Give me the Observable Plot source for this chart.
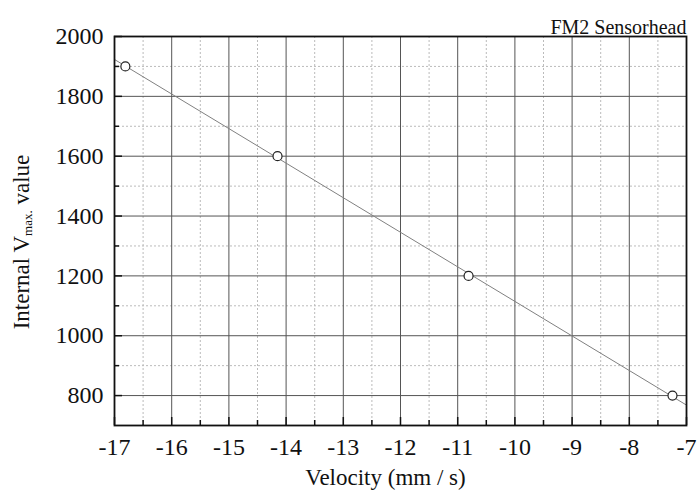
<!DOCTYPE html>
<html>
<head>
<meta charset="utf-8">
<script src="https://cdn.jsdelivr.net/npm/d3@7"></script>
<script src="https://cdn.jsdelivr.net/npm/@observablehq/plot@0.6"></script>
<style>
  html, body { margin: 0; padding: 0; background: #fff; }
</style>
</head>
<body>
<div id="chart"></div>
<script>
// Data
const velocity = [-16.81, -14.15, -10.81, -7.245];
const vmax = [1900, 1600, 1200, 800];
const xTicks = [-17, -16, -15, -14, -13, -12, -11, -10, -9, -8, -7];
const xMinorTicks = [-16.5, -15.5, -14.5, -13.5, -12.5, -11.5, -10.5, -9.5, -8.5, -7.5];
const yTicks = [800, 1000, 1200, 1400, 1600, 1800, 2000];
const yMinorTicks = [900, 1100, 1300, 1500, 1700, 1900];
const xDomain = [-17, -7];
const yDomain = [700, 2000];
const titleText = "FM2 Sensorhead";
const xLabel = "Velocity (mm / s)";

const points = velocity.map((v, i) => ({x: v, y: vmax[i]}));

// least-squares linear fit, evaluated across the x domain
const mx = d3.mean(velocity), my = d3.mean(vmax);
const slope = d3.sum(points, p => (p.x - mx) * (p.y - my)) / d3.sum(points, p => (p.x - mx) ** 2);
const intercept = my - slope * mx;
const fitLine = xDomain.map(x => ({x, y: intercept + slope * x}));

const font = "Liberation Serif";

const chart = Plot.plot({
  width: 699,
  height: 499,
  marginLeft: 114,
  marginRight: 13,
  marginTop: 36,
  marginBottom: 74,
  style: {fontSize: "24px", color: "#111", background: "#fff"},
  x: {domain: xDomain},
  y: {domain: yDomain},
  marks: [
    Plot.gridX(xMinorTicks, {stroke: "#bbb", strokeOpacity: 1, strokeDasharray: "2,2"}),
    Plot.gridY(yMinorTicks, {stroke: "#bbb", strokeOpacity: 1, strokeDasharray: "2,2"}),
    Plot.gridX(xTicks, {stroke: "#555", strokeOpacity: 1}),
    Plot.gridY(yTicks, {stroke: "#555", strokeOpacity: 1}),
    Plot.axisX(xTicks, {tickSize: -8, tickFormat: () => "", label: null, strokeWidth: 1.5}),
    Plot.axisX(xMinorTicks, {tickSize: -5, tickFormat: () => "", label: null, strokeWidth: 1.5}),
    Plot.axisX(xTicks, {tickSize: 0, tickPadding: 12, label: null, fontSize: 24, fontFamily: font, tickFormat: d => String(d)}),
    Plot.axisY(yTicks, {tickSize: -8, tickFormat: () => "", label: null, strokeWidth: 1.5}),
    Plot.axisY(yMinorTicks, {tickSize: -5, tickFormat: () => "", label: null, strokeWidth: 1.5}),
    Plot.axisY(yTicks, {tickSize: 0, tickPadding: 11, label: null, fontSize: 24, fontFamily: font, tickFormat: d => String(d)}),
    Plot.line(fitLine, {x: "x", y: "y", stroke: "#808080", strokeWidth: 1}),
    Plot.dot(points, {x: "x", y: "y", r: 4.5, stroke: "#222", fill: "#fff", strokeWidth: 1.2}),
    Plot.frame({stroke: "#111", strokeWidth: 1.8}),
    Plot.text([titleText], {frameAnchor: "top-right", textAnchor: "end", dy: -17, fontSize: 20, fontFamily: font, text: d => d}),
    Plot.text([xLabel], {frameAnchor: "bottom", dx: -15, dy: 59, fontSize: 23, fontFamily: font, text: d => d})
  ]
});

// y-axis label with subscript
const svg = d3.select(chart);
const yl = svg.append("text")
  .attr("transform", "translate(21,242) rotate(-90)")
  .attr("text-anchor", "middle")
  .attr("dominant-baseline", "central")
  .attr("font-family", font)
  .attr("font-size", 23)
  .attr("fill", "#111");
yl.append("tspan").text("Internal V");
yl.append("tspan").attr("font-size", 13).attr("dy", 6).text("max.");
yl.append("tspan").attr("dy", -6).text(" value");

svg.selectAll("text").attr("font-family", font);

document.getElementById("chart").appendChild(chart);
</script>
</body>
</html>
